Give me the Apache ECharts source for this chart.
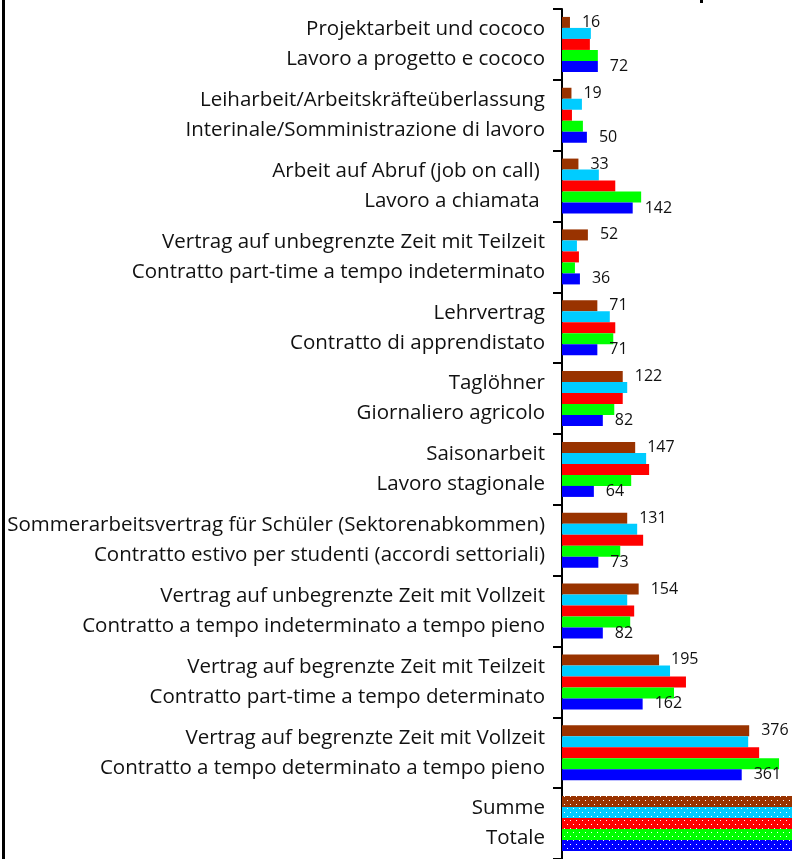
<!DOCTYPE html>
<html>
<head>
<meta charset="utf-8">
<script src="https://cdn.jsdelivr.net/npm/echarts@6/dist/echarts.min.js"></script>
<style>
  html, body { margin: 0; padding: 0; background: #fff; }
  #chart { width: 792px; height: 859px; }
</style>
</head>
<body>
<div id="chart"></div>
<script>
var catDe = [
    'Projektarbeit und cococo',
    'Leiharbeit/Arbeitskräfteüberlassung',
    'Arbeit auf Abruf (job on call) ',
    'Vertrag auf unbegrenzte Zeit mit Teilzeit',
    'Lehrvertrag',
    'Taglöhner',
    'Saisonarbeit',
    'Sommerarbeitsvertrag für Schüler (Sektorenabkommen)',
    'Vertrag auf unbegrenzte Zeit mit Vollzeit',
    'Vertrag auf begrenzte Zeit mit Teilzeit',
    'Vertrag auf begrenzte Zeit mit Vollzeit',
    'Summe'
];
var catIt = [
    'Lavoro a progetto e cococo',
    'Interinale/Somministrazione di lavoro',
    'Lavoro a chiamata ',
    'Contratto part-time a tempo indeterminato',
    'Contratto di apprendistato',
    'Giornaliero agricolo',
    'Lavoro stagionale',
    'Contratto estivo per studenti (accordi settoriali)',
    'Contratto a tempo indeterminato a tempo pieno',
    'Contratto part-time a tempo determinato',
    'Contratto a tempo determinato a tempo pieno',
    'Totale'
];

// five series per category, top to bottom: brown, cyan, red, green, blue
var brownVals = [16, 19, 33, 52, 71, 122, 147, 131, 154, 195, 376, 1316];
var cyanVals  = [58, 40, 74, 30, 96, 131, 169, 151, 131, 217, 374, 1471];
var redVals   = [56, 20, 107, 34, 107, 122, 175, 163, 145, 249, 396, 1574];
var greenVals = [72, 42, 159, 26, 103, 105, 139, 117, 137, 225, 436, 1561];
var blueVals  = [72, 50, 142, 36, 71, 82, 64, 73, 82, 162, 361, 1195];

var colors = ['#993300', '#00CCFF', '#FF0000', '#00FF00', '#0000FF'];
var allVals = [brownVals, cyanVals, redVals, greenVals, blueVals];

var categories = catDe.map(function (d, i) { return d + '\n' + catIt[i]; });

// dotted pattern for the total row
var dots = {
    symbol: 'rect',
    symbolSize: 1,
    color: '#ffffff',
    dashArrayX: [[1, 5], [0, 3, 1, 2]],
    dashArrayY: [1, 3]
};

var series = allVals.map(function (vals, s) {
    var showLabel = (s === 0 || s === 4);
    return {
        type: 'bar',
        barWidth: 11,
        barGap: '0%',
        itemStyle: { color: colors[s] },
        label: {
            show: showLabel,
            position: 'right',
            distance: 12,
            fontFamily: 'Open Sans',
            fontSize: 16,
            color: '#111'
        },
        data: vals.map(function (v, i) {
            if (i === vals.length - 1) {
                return { value: v, itemStyle: { decal: dots }, label: { show: false } };
            }
            return v;
        })
    };
});

var option = {
    animation: false,
    backgroundColor: '#ffffff',
    grid: { left: 562, top: 9, right: 0, height: 858 },
    xAxis: {
        type: 'value',
        min: 0,
        max: 462,
        show: false
    },
    yAxis: {
        type: 'category',
        inverse: true,
        data: categories,
        axisLine: { show: true, lineStyle: { color: '#000', width: 2 } },
        axisTick: { show: true, length: 9, lineStyle: { color: '#000', width: 2 } },
        axisLabel: {
            margin: 17,
            fontFamily: 'Open Sans',
            fontSize: 20.5,
            lineHeight: 30,
            padding: [3, 0, 0, 0],
            color: '#111',
            align: 'right'
        }
    },
    graphic: [
        { type: 'rect', left: 2, top: 0, shape: { width: 3, height: 859 }, style: { fill: '#000' } },
        { type: 'rect', left: 700, top: 0, shape: { width: 3, height: 3 }, style: { fill: '#000' } }
    ],
    series: series
};

var mychart = echarts.init(document.getElementById('chart'));
mychart.setOption(option);
window.addEventListener('resize', function () {
    mychart.resize();
});
</script>
</body>
</html>
